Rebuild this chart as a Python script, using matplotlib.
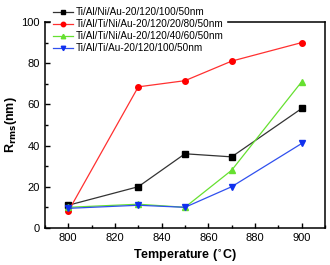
import matplotlib
matplotlib.use("Agg")
import matplotlib.pyplot as plt
from matplotlib.ticker import MultipleLocator

plt.rcParams['font.family'] = ['Liberation Sans', 'DejaVu Sans']

# data
temps = [800, 830, 850, 870, 900]
labels = ["Ti/Al/Ni/Au-20/120/100/50nm",
          "Ti/Al/Ti/Ni/Au-20/120/20/80/50nm",
          "Ti/Al/Ti/Ni/Au-20/120/40/60/50nm",
          "Ti/Al/Ti/Au-20/120/100/50nm"]
rms_nialu = [11, 20, 36, 34.5, 58]
rms_ti20 = [8, 68.5, 71.5, 81, 90]
rms_ti40 = [10, 11.5, 10, 28, 71]
rms_tiau = [9.5, 11, 10, 20, 41]

fig = plt.figure(figsize=(3.3, 2.65), dpi=100)
ax = fig.add_axes([0.136, 0.14, 0.849, 0.777])

ax.plot(temps, rms_nialu, color="#333333", lw=0.9, marker="s", ms=4, mfc="black", mec="black", label=labels[0])
ax.plot(temps, rms_ti20, color="#ff3030", lw=0.9, marker="o", ms=4, mfc="red", mec="red", label=labels[1])
ax.plot(temps, rms_ti40, color="#66e030", lw=0.9, marker="^", ms=4, mfc="#66e030", mec="#66e030", label=labels[2])
ax.plot(temps, rms_tiau, color="#3050ee", lw=0.9, marker="v", ms=4, mfc="#1030ee", mec="#1030ee", label=labels[3])

ax.set_xlim(790, 910)
ax.set_ylim(0, 100)
ax.xaxis.set_major_locator(MultipleLocator(20))
ax.xaxis.set_minor_locator(MultipleLocator(10))
ax.yaxis.set_major_locator(MultipleLocator(20))
ax.yaxis.set_minor_locator(MultipleLocator(10))
ax.tick_params(which="both", direction="in", labelsize=8, width=1)
ax.tick_params(which="major", length=3.5)
ax.tick_params(which="minor", length=2)
for s in ax.spines.values():
    s.set_linewidth(1.1)

ax.set_xlabel("Temperature ($^{\\circ}$C)", fontsize=9, fontweight="bold", labelpad=4)
ax.set_ylabel("R$_{\\mathbf{rms}}$(nm)", fontsize=9, fontweight="bold", labelpad=2)

leg = fig.legend(loc="upper left", bbox_to_anchor=(0.14, 1.0), frameon=True,
                 fontsize=7.2, handlelength=2.0, handletextpad=0.3,
                 labelspacing=0.2, borderpad=0.2, markerscale=0.8)
leg.get_frame().set_facecolor("white")
leg.get_frame().set_edgecolor("white")
leg.get_frame().set_alpha(1.0)

fig.savefig("out.png", dpi=100)
